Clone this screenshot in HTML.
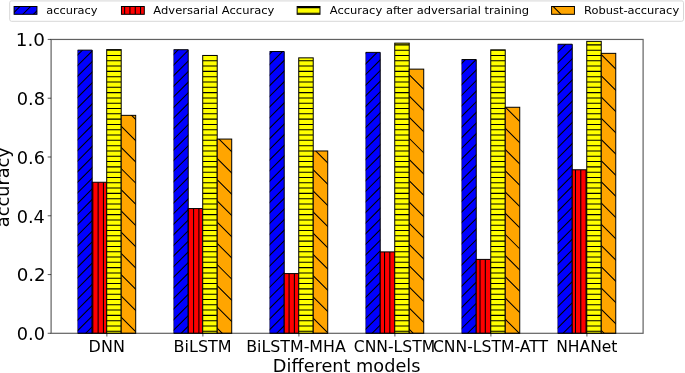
<!DOCTYPE html>
<html><head><meta charset="utf-8"><title>Accuracy of different models</title>
<style>
html,body{margin:0;padding:0;background:#fff;}
body{width:685px;height:373px;overflow:hidden;}
svg{display:block;font-family:"DejaVu Sans","Liberation Sans",sans-serif;}
text{fill:#000;}
</style></head><body>
<svg width="685" height="373" viewBox="0 0 685 373">
<defs>
<clipPath id="c1"><rect x="77.70" y="50.15" width="14.50" height="283.15"/></clipPath>
<clipPath id="c2"><rect x="92.20" y="182.26" width="14.50" height="151.04"/></clipPath>
<clipPath id="c3"><rect x="106.70" y="49.59" width="14.50" height="283.71"/></clipPath>
<clipPath id="c4"><rect x="121.20" y="115.35" width="14.50" height="217.95"/></clipPath>
<clipPath id="c5"><rect x="173.71" y="49.73" width="14.50" height="283.57"/></clipPath>
<clipPath id="c6"><rect x="188.21" y="208.56" width="14.50" height="124.74"/></clipPath>
<clipPath id="c7"><rect x="202.71" y="55.46" width="14.50" height="277.84"/></clipPath>
<clipPath id="c8"><rect x="217.21" y="139.07" width="14.50" height="194.23"/></clipPath>
<clipPath id="c9"><rect x="269.72" y="51.50" width="14.50" height="281.80"/></clipPath>
<clipPath id="c10"><rect x="284.22" y="273.59" width="14.50" height="59.71"/></clipPath>
<clipPath id="c11"><rect x="298.72" y="57.85" width="14.50" height="275.45"/></clipPath>
<clipPath id="c12"><rect x="313.22" y="150.97" width="14.50" height="182.33"/></clipPath>
<clipPath id="c13"><rect x="365.73" y="52.38" width="14.50" height="280.92"/></clipPath>
<clipPath id="c14"><rect x="380.23" y="251.90" width="14.50" height="81.40"/></clipPath>
<clipPath id="c15"><rect x="394.73" y="43.15" width="14.50" height="290.15"/></clipPath>
<clipPath id="c16"><rect x="409.23" y="69.13" width="14.50" height="264.17"/></clipPath>
<clipPath id="c17"><rect x="461.74" y="59.55" width="14.50" height="273.75"/></clipPath>
<clipPath id="c18"><rect x="476.24" y="259.40" width="14.50" height="73.90"/></clipPath>
<clipPath id="c19"><rect x="490.74" y="49.85" width="14.50" height="283.45"/></clipPath>
<clipPath id="c20"><rect x="505.24" y="107.27" width="14.50" height="226.03"/></clipPath>
<clipPath id="c21"><rect x="557.75" y="44.24" width="14.50" height="289.06"/></clipPath>
<clipPath id="c22"><rect x="572.25" y="169.77" width="14.50" height="163.53"/></clipPath>
<clipPath id="c23"><rect x="586.75" y="41.36" width="14.50" height="291.94"/></clipPath>
<clipPath id="c24"><rect x="601.25" y="53.35" width="14.50" height="279.95"/></clipPath>
<clipPath id="c25"><rect x="14.10" y="6.50" width="22.84" height="7.80"/></clipPath>
<clipPath id="c26"><rect x="121.45" y="6.50" width="22.84" height="7.80"/></clipPath>
<clipPath id="c27"><rect x="297.15" y="6.50" width="22.84" height="7.80"/></clipPath>
<clipPath id="c28"><rect x="551.60" y="6.50" width="22.84" height="7.80"/></clipPath>
</defs>
<rect width="685" height="373" fill="#fff"/>
<g stroke="#000" stroke-width="1.0">
<rect x="77.70" y="50.15" width="14.50" height="283.15" fill="#0000ff" stroke="none"/>
<path clip-path="url(#c1)" d="M76.70 55.85L83.40 49.15M76.70 66.45L93.20 49.95M76.70 77.06L93.20 60.56M76.70 87.67L93.20 71.17M76.70 98.28L93.20 81.78M76.70 108.89L93.20 92.39M76.70 119.49L93.20 102.99M76.70 130.10L93.20 113.60M76.70 140.71L93.20 124.21M76.70 151.32L93.20 134.82M76.70 161.93L93.20 145.43M76.70 172.53L93.20 156.03M76.70 183.14L93.20 166.64M76.70 193.75L93.20 177.25M76.70 204.36L93.20 187.86M76.70 214.97L93.20 198.47M76.70 225.57L93.20 209.07M76.70 236.18L93.20 219.68M76.70 246.79L93.20 230.29M76.70 257.40L93.20 240.90M76.70 268.01L93.20 251.51M76.70 278.61L93.20 262.11M76.70 289.22L93.20 272.72M76.70 299.83L93.20 283.33M76.70 310.44L93.20 293.94M76.70 321.05L93.20 304.55M76.70 331.65L93.20 315.15M84.66 334.30L93.20 325.76" fill="none" stroke-width="1.05"/>
<path d="M77.70 50.15H92.20V333.30H77.70" fill="none"/>
<path d="M77.70 333.30V50.15" fill="none" stroke-opacity="0.6" stroke-width="0.8"/>
<rect x="92.20" y="182.26" width="14.50" height="151.04" fill="#ff0000" stroke="none"/>
<path clip-path="url(#c2)" d="M92.82 182.26V333.30M98.12 182.26V333.30M103.43 182.26V333.30" fill="none" stroke-width="1.05"/>
<rect x="92.20" y="182.26" width="14.50" height="151.04" fill="none"/>
<rect x="106.70" y="49.59" width="14.50" height="283.71" fill="#ffff00" stroke="none"/>
<path clip-path="url(#c3)" d="M106.70 50.18H121.20M106.70 55.48H121.20M106.70 60.78H121.20M106.70 66.09H121.20M106.70 71.39H121.20M106.70 76.70H121.20M106.70 82.00H121.20M106.70 87.30H121.20M106.70 92.61H121.20M106.70 97.91H121.20M106.70 103.22H121.20M106.70 108.52H121.20M106.70 113.82H121.20M106.70 119.13H121.20M106.70 124.43H121.20M106.70 129.74H121.20M106.70 135.04H121.20M106.70 140.34H121.20M106.70 145.65H121.20M106.70 150.95H121.20M106.70 156.26H121.20M106.70 161.56H121.20M106.70 166.86H121.20M106.70 172.17H121.20M106.70 177.47H121.20M106.70 182.78H121.20M106.70 188.08H121.20M106.70 193.38H121.20M106.70 198.69H121.20M106.70 203.99H121.20M106.70 209.30H121.20M106.70 214.60H121.20M106.70 219.90H121.20M106.70 225.21H121.20M106.70 230.51H121.20M106.70 235.82H121.20M106.70 241.12H121.20M106.70 246.42H121.20M106.70 251.73H121.20M106.70 257.03H121.20M106.70 262.34H121.20M106.70 267.64H121.20M106.70 272.94H121.20M106.70 278.25H121.20M106.70 283.55H121.20M106.70 288.86H121.20M106.70 294.16H121.20M106.70 299.46H121.20M106.70 304.77H121.20M106.70 310.07H121.20M106.70 315.38H121.20M106.70 320.68H121.20M106.70 325.98H121.20M106.70 331.29H121.20" fill="none" stroke-width="1.05"/>
<rect x="106.70" y="49.59" width="14.50" height="283.71" fill="none"/>
<rect x="121.20" y="115.35" width="14.50" height="217.95" fill="#ffa500" stroke="none"/>
<path clip-path="url(#c4)" d="M120.20 316.10L136.70 332.60M120.20 294.88L136.70 311.38M120.20 273.67L136.70 290.17M120.20 252.45L136.70 268.95M120.20 231.23L136.70 247.73M120.20 210.01L136.70 226.51M120.20 188.80L136.70 205.30M120.20 167.58L136.70 184.08M120.20 146.36L136.70 162.86M120.20 125.15L136.70 141.65M130.62 114.35L136.70 120.43" fill="none" stroke-width="1.05"/>
<rect x="121.20" y="115.35" width="14.50" height="217.95" fill="none"/>
<rect x="173.71" y="49.73" width="14.50" height="283.57" fill="#0000ff" stroke="none"/>
<path clip-path="url(#c5)" d="M172.71 55.31L179.28 48.73M172.71 65.92L189.21 49.42M172.71 76.52L189.21 60.02M172.71 87.13L189.21 70.63M172.71 97.74L189.21 81.24M172.71 108.35L189.21 91.85M172.71 118.96L189.21 102.46M172.71 129.56L189.21 113.06M172.71 140.17L189.21 123.67M172.71 150.78L189.21 134.28M172.71 161.39L189.21 144.89M172.71 172.00L189.21 155.50M172.71 182.60L189.21 166.10M172.71 193.21L189.21 176.71M172.71 203.82L189.21 187.32M172.71 214.43L189.21 197.93M172.71 225.04L189.21 208.54M172.71 235.64L189.21 219.14M172.71 246.25L189.21 229.75M172.71 256.86L189.21 240.36M172.71 267.47L189.21 250.97M172.71 278.08L189.21 261.58M172.71 288.68L189.21 272.18M172.71 299.29L189.21 282.79M172.71 309.90L189.21 293.40M172.71 320.51L189.21 304.01M172.71 331.12L189.21 314.62M180.13 334.30L189.21 325.22" fill="none" stroke-width="1.05"/>
<path d="M173.71 49.73H188.21V333.30H173.71" fill="none"/>
<path d="M173.71 333.30V49.73" fill="none" stroke-opacity="0.6" stroke-width="0.8"/>
<rect x="188.21" y="208.56" width="14.50" height="124.74" fill="#ff0000" stroke="none"/>
<path clip-path="url(#c6)" d="M188.29 208.56V333.30M193.59 208.56V333.30M198.90 208.56V333.30" fill="none" stroke-width="1.05"/>
<rect x="188.21" y="208.56" width="14.50" height="124.74" fill="none"/>
<rect x="202.71" y="55.46" width="14.50" height="277.84" fill="#ffff00" stroke="none"/>
<path clip-path="url(#c7)" d="M202.71 55.48H217.21M202.71 60.78H217.21M202.71 66.09H217.21M202.71 71.39H217.21M202.71 76.70H217.21M202.71 82.00H217.21M202.71 87.30H217.21M202.71 92.61H217.21M202.71 97.91H217.21M202.71 103.22H217.21M202.71 108.52H217.21M202.71 113.82H217.21M202.71 119.13H217.21M202.71 124.43H217.21M202.71 129.74H217.21M202.71 135.04H217.21M202.71 140.34H217.21M202.71 145.65H217.21M202.71 150.95H217.21M202.71 156.26H217.21M202.71 161.56H217.21M202.71 166.86H217.21M202.71 172.17H217.21M202.71 177.47H217.21M202.71 182.78H217.21M202.71 188.08H217.21M202.71 193.38H217.21M202.71 198.69H217.21M202.71 203.99H217.21M202.71 209.30H217.21M202.71 214.60H217.21M202.71 219.90H217.21M202.71 225.21H217.21M202.71 230.51H217.21M202.71 235.82H217.21M202.71 241.12H217.21M202.71 246.42H217.21M202.71 251.73H217.21M202.71 257.03H217.21M202.71 262.34H217.21M202.71 267.64H217.21M202.71 272.94H217.21M202.71 278.25H217.21M202.71 283.55H217.21M202.71 288.86H217.21M202.71 294.16H217.21M202.71 299.46H217.21M202.71 304.77H217.21M202.71 310.07H217.21M202.71 315.38H217.21M202.71 320.68H217.21M202.71 325.98H217.21M202.71 331.29H217.21" fill="none" stroke-width="1.05"/>
<rect x="202.71" y="55.46" width="14.50" height="277.84" fill="none"/>
<rect x="217.21" y="139.07" width="14.50" height="194.23" fill="#ffa500" stroke="none"/>
<path clip-path="url(#c8)" d="M216.21 327.24L223.27 334.30M216.21 306.02L232.71 322.52M216.21 284.81L232.71 301.31M216.21 263.59L232.71 280.09M216.21 242.37L232.71 258.87M216.21 221.16L232.71 237.66M216.21 199.94L232.71 216.44M216.21 178.72L232.71 195.22M216.21 157.51L232.71 174.01M217.99 138.07L232.71 152.79" fill="none" stroke-width="1.05"/>
<rect x="217.21" y="139.07" width="14.50" height="194.23" fill="none"/>
<rect x="269.72" y="51.50" width="14.50" height="281.80" fill="#0000ff" stroke="none"/>
<path clip-path="url(#c9)" d="M268.72 54.77L272.99 50.50M268.72 65.38L283.60 50.50M268.72 75.99L285.22 59.49M268.72 86.59L285.22 70.09M268.72 97.20L285.22 80.70M268.72 107.81L285.22 91.31M268.72 118.42L285.22 101.92M268.72 129.03L285.22 112.53M268.72 139.63L285.22 123.13M268.72 150.24L285.22 133.74M268.72 160.85L285.22 144.35M268.72 171.46L285.22 154.96M268.72 182.07L285.22 165.57M268.72 192.67L285.22 176.17M268.72 203.28L285.22 186.78M268.72 213.89L285.22 197.39M268.72 224.50L285.22 208.00M268.72 235.11L285.22 218.61M268.72 245.71L285.22 229.21M268.72 256.32L285.22 239.82M268.72 266.93L285.22 250.43M268.72 277.54L285.22 261.04M268.72 288.15L285.22 271.65M268.72 298.75L285.22 282.25M268.72 309.36L285.22 292.86M268.72 319.97L285.22 303.47M268.72 330.58L285.22 314.08M275.61 334.30L285.22 324.69" fill="none" stroke-width="1.05"/>
<path d="M269.72 51.50H284.22V333.30H269.72" fill="none"/>
<path d="M269.72 333.30V51.50" fill="none" stroke-opacity="0.6" stroke-width="0.8"/>
<rect x="284.22" y="273.59" width="14.50" height="59.71" fill="#ff0000" stroke="none"/>
<path clip-path="url(#c10)" d="M289.07 273.59V333.30M294.37 273.59V333.30" fill="none" stroke-width="1.05"/>
<rect x="284.22" y="273.59" width="14.50" height="59.71" fill="none"/>
<rect x="298.72" y="57.85" width="14.50" height="275.45" fill="#ffff00" stroke="none"/>
<path clip-path="url(#c11)" d="M298.72 60.78H313.22M298.72 66.09H313.22M298.72 71.39H313.22M298.72 76.70H313.22M298.72 82.00H313.22M298.72 87.30H313.22M298.72 92.61H313.22M298.72 97.91H313.22M298.72 103.22H313.22M298.72 108.52H313.22M298.72 113.82H313.22M298.72 119.13H313.22M298.72 124.43H313.22M298.72 129.74H313.22M298.72 135.04H313.22M298.72 140.34H313.22M298.72 145.65H313.22M298.72 150.95H313.22M298.72 156.26H313.22M298.72 161.56H313.22M298.72 166.86H313.22M298.72 172.17H313.22M298.72 177.47H313.22M298.72 182.78H313.22M298.72 188.08H313.22M298.72 193.38H313.22M298.72 198.69H313.22M298.72 203.99H313.22M298.72 209.30H313.22M298.72 214.60H313.22M298.72 219.90H313.22M298.72 225.21H313.22M298.72 230.51H313.22M298.72 235.82H313.22M298.72 241.12H313.22M298.72 246.42H313.22M298.72 251.73H313.22M298.72 257.03H313.22M298.72 262.34H313.22M298.72 267.64H313.22M298.72 272.94H313.22M298.72 278.25H313.22M298.72 283.55H313.22M298.72 288.86H313.22M298.72 294.16H313.22M298.72 299.46H313.22M298.72 304.77H313.22M298.72 310.07H313.22M298.72 315.38H313.22M298.72 320.68H313.22M298.72 325.98H313.22M298.72 331.29H313.22" fill="none" stroke-width="1.05"/>
<rect x="298.72" y="57.85" width="14.50" height="275.45" fill="none"/>
<rect x="313.22" y="150.97" width="14.50" height="182.33" fill="#ffa500" stroke="none"/>
<path clip-path="url(#c12)" d="M312.22 317.17L328.72 333.67M312.22 295.95L328.72 312.45M312.22 274.73L328.72 291.23M312.22 253.52L328.72 270.02M312.22 232.30L328.72 248.80M312.22 211.08L328.72 227.58M312.22 189.87L328.72 206.37M312.22 168.65L328.72 185.15M314.76 149.97L328.72 163.93" fill="none" stroke-width="1.05"/>
<rect x="313.22" y="150.97" width="14.50" height="182.33" fill="none"/>
<rect x="365.73" y="52.38" width="14.50" height="280.92" fill="#0000ff" stroke="none"/>
<path clip-path="url(#c13)" d="M364.73 54.23L367.58 51.38M364.73 64.84L378.19 51.38M364.73 75.45L381.23 58.95M364.73 86.06L381.23 69.56M364.73 96.66L381.23 80.16M364.73 107.27L381.23 90.77M364.73 117.88L381.23 101.38M364.73 128.49L381.23 111.99M364.73 139.10L381.23 122.60M364.73 149.70L381.23 133.20M364.73 160.31L381.23 143.81M364.73 170.92L381.23 154.42M364.73 181.53L381.23 165.03M364.73 192.14L381.23 175.64M364.73 202.74L381.23 186.24M364.73 213.35L381.23 196.85M364.73 223.96L381.23 207.46M364.73 234.57L381.23 218.07M364.73 245.18L381.23 228.68M364.73 255.78L381.23 239.28M364.73 266.39L381.23 249.89M364.73 277.00L381.23 260.50M364.73 287.61L381.23 271.11M364.73 298.22L381.23 281.72M364.73 308.82L381.23 292.32M364.73 319.43L381.23 302.93M364.73 330.04L381.23 313.54M371.08 334.30L381.23 324.15" fill="none" stroke-width="1.05"/>
<path d="M365.73 52.38H380.23V333.30H365.73" fill="none"/>
<path d="M365.73 333.30V52.38" fill="none" stroke-opacity="0.6" stroke-width="0.8"/>
<rect x="380.23" y="251.90" width="14.50" height="81.40" fill="#ff0000" stroke="none"/>
<path clip-path="url(#c14)" d="M384.54 251.90V333.30M389.84 251.90V333.30" fill="none" stroke-width="1.05"/>
<rect x="380.23" y="251.90" width="14.50" height="81.40" fill="none"/>
<rect x="394.73" y="43.15" width="14.50" height="290.15" fill="#ffff00" stroke="none"/>
<path clip-path="url(#c15)" d="M394.73 44.87H409.23M394.73 50.18H409.23M394.73 55.48H409.23M394.73 60.78H409.23M394.73 66.09H409.23M394.73 71.39H409.23M394.73 76.70H409.23M394.73 82.00H409.23M394.73 87.30H409.23M394.73 92.61H409.23M394.73 97.91H409.23M394.73 103.22H409.23M394.73 108.52H409.23M394.73 113.82H409.23M394.73 119.13H409.23M394.73 124.43H409.23M394.73 129.74H409.23M394.73 135.04H409.23M394.73 140.34H409.23M394.73 145.65H409.23M394.73 150.95H409.23M394.73 156.26H409.23M394.73 161.56H409.23M394.73 166.86H409.23M394.73 172.17H409.23M394.73 177.47H409.23M394.73 182.78H409.23M394.73 188.08H409.23M394.73 193.38H409.23M394.73 198.69H409.23M394.73 203.99H409.23M394.73 209.30H409.23M394.73 214.60H409.23M394.73 219.90H409.23M394.73 225.21H409.23M394.73 230.51H409.23M394.73 235.82H409.23M394.73 241.12H409.23M394.73 246.42H409.23M394.73 251.73H409.23M394.73 257.03H409.23M394.73 262.34H409.23M394.73 267.64H409.23M394.73 272.94H409.23M394.73 278.25H409.23M394.73 283.55H409.23M394.73 288.86H409.23M394.73 294.16H409.23M394.73 299.46H409.23M394.73 304.77H409.23M394.73 310.07H409.23M394.73 315.38H409.23M394.73 320.68H409.23M394.73 325.98H409.23M394.73 331.29H409.23" fill="none" stroke-width="1.05"/>
<rect x="394.73" y="43.15" width="14.50" height="290.15" fill="none"/>
<rect x="409.23" y="69.13" width="14.50" height="264.17" fill="#ffa500" stroke="none"/>
<path clip-path="url(#c16)" d="M408.23 328.31L414.22 334.30M408.23 307.09L424.73 323.59M408.23 285.88L424.73 302.38M408.23 264.66L424.73 281.16M408.23 243.44L424.73 259.94M408.23 222.22L424.73 238.72M408.23 201.01L424.73 217.51M408.23 179.79L424.73 196.29M408.23 158.57L424.73 175.07M408.23 137.36L424.73 153.86M408.23 116.14L424.73 132.64M408.23 94.92L424.73 111.42M408.23 73.71L424.73 90.21" fill="none" stroke-width="1.05"/>
<rect x="409.23" y="69.13" width="14.50" height="264.17" fill="none"/>
<rect x="461.74" y="59.55" width="14.50" height="273.75" fill="#0000ff" stroke="none"/>
<path clip-path="url(#c17)" d="M460.74 64.30L466.49 58.55M460.74 74.91L477.10 58.55M460.74 85.52L477.24 69.02M460.74 96.13L477.24 79.63M460.74 106.73L477.24 90.23M460.74 117.34L477.24 100.84M460.74 127.95L477.24 111.45M460.74 138.56L477.24 122.06M460.74 149.17L477.24 132.67M460.74 159.77L477.24 143.27M460.74 170.38L477.24 153.88M460.74 180.99L477.24 164.49M460.74 191.60L477.24 175.10M460.74 202.21L477.24 185.71M460.74 212.81L477.24 196.31M460.74 223.42L477.24 206.92M460.74 234.03L477.24 217.53M460.74 244.64L477.24 228.14M460.74 255.25L477.24 238.75M460.74 265.85L477.24 249.35M460.74 276.46L477.24 259.96M460.74 287.07L477.24 270.57M460.74 297.68L477.24 281.18M460.74 308.29L477.24 291.79M460.74 318.89L477.24 302.39M460.74 329.50L477.24 313.00M466.55 334.30L477.24 323.61" fill="none" stroke-width="1.05"/>
<path d="M461.74 59.55H476.24V333.30H461.74" fill="none"/>
<path d="M461.74 333.30V59.55" fill="none" stroke-opacity="0.6" stroke-width="0.8"/>
<rect x="476.24" y="259.40" width="14.50" height="73.90" fill="#ff0000" stroke="none"/>
<path clip-path="url(#c18)" d="M480.01 259.40V333.30M485.31 259.40V333.30M490.62 259.40V333.30" fill="none" stroke-width="1.05"/>
<rect x="476.24" y="259.40" width="14.50" height="73.90" fill="none"/>
<rect x="490.74" y="49.85" width="14.50" height="283.45" fill="#ffff00" stroke="none"/>
<path clip-path="url(#c19)" d="M490.74 50.18H505.24M490.74 55.48H505.24M490.74 60.78H505.24M490.74 66.09H505.24M490.74 71.39H505.24M490.74 76.70H505.24M490.74 82.00H505.24M490.74 87.30H505.24M490.74 92.61H505.24M490.74 97.91H505.24M490.74 103.22H505.24M490.74 108.52H505.24M490.74 113.82H505.24M490.74 119.13H505.24M490.74 124.43H505.24M490.74 129.74H505.24M490.74 135.04H505.24M490.74 140.34H505.24M490.74 145.65H505.24M490.74 150.95H505.24M490.74 156.26H505.24M490.74 161.56H505.24M490.74 166.86H505.24M490.74 172.17H505.24M490.74 177.47H505.24M490.74 182.78H505.24M490.74 188.08H505.24M490.74 193.38H505.24M490.74 198.69H505.24M490.74 203.99H505.24M490.74 209.30H505.24M490.74 214.60H505.24M490.74 219.90H505.24M490.74 225.21H505.24M490.74 230.51H505.24M490.74 235.82H505.24M490.74 241.12H505.24M490.74 246.42H505.24M490.74 251.73H505.24M490.74 257.03H505.24M490.74 262.34H505.24M490.74 267.64H505.24M490.74 272.94H505.24M490.74 278.25H505.24M490.74 283.55H505.24M490.74 288.86H505.24M490.74 294.16H505.24M490.74 299.46H505.24M490.74 304.77H505.24M490.74 310.07H505.24M490.74 315.38H505.24M490.74 320.68H505.24M490.74 325.98H505.24M490.74 331.29H505.24" fill="none" stroke-width="1.05"/>
<rect x="490.74" y="49.85" width="14.50" height="283.45" fill="none"/>
<rect x="505.24" y="107.27" width="14.50" height="226.03" fill="#ffa500" stroke="none"/>
<path clip-path="url(#c20)" d="M504.24 318.23L520.31 334.30M504.24 297.02L520.74 313.52M504.24 275.80L520.74 292.30M504.24 254.58L520.74 271.08M504.24 233.37L520.74 249.87M504.24 212.15L520.74 228.65M504.24 190.93L520.74 207.43M504.24 169.72L520.74 186.22M504.24 148.50L520.74 165.00M504.24 127.28L520.74 143.78M504.45 106.27L520.74 122.56" fill="none" stroke-width="1.05"/>
<rect x="505.24" y="107.27" width="14.50" height="226.03" fill="none"/>
<rect x="557.75" y="44.24" width="14.50" height="289.06" fill="#0000ff" stroke="none"/>
<path clip-path="url(#c21)" d="M556.75 53.16L566.67 43.24M556.75 63.76L573.25 47.26M556.75 74.37L573.25 57.87M556.75 84.98L573.25 68.48M556.75 95.59L573.25 79.09M556.75 106.20L573.25 89.70M556.75 116.80L573.25 100.30M556.75 127.41L573.25 110.91M556.75 138.02L573.25 121.52M556.75 148.63L573.25 132.13M556.75 159.24L573.25 142.74M556.75 169.84L573.25 153.34M556.75 180.45L573.25 163.95M556.75 191.06L573.25 174.56M556.75 201.67L573.25 185.17M556.75 212.28L573.25 195.78M556.75 222.88L573.25 206.38M556.75 233.49L573.25 216.99M556.75 244.10L573.25 227.60M556.75 254.71L573.25 238.21M556.75 265.32L573.25 248.82M556.75 275.92L573.25 259.42M556.75 286.53L573.25 270.03M556.75 297.14L573.25 280.64M556.75 307.75L573.25 291.25M556.75 318.36L573.25 301.86M556.75 328.96L573.25 312.46M562.02 334.30L573.25 323.07" fill="none" stroke-width="1.05"/>
<path d="M557.75 44.24H572.25V333.30H557.75" fill="none"/>
<path d="M557.75 333.30V44.24" fill="none" stroke-opacity="0.6" stroke-width="0.8"/>
<rect x="572.25" y="169.77" width="14.50" height="163.53" fill="#ff0000" stroke="none"/>
<path clip-path="url(#c22)" d="M575.48 169.77V333.30M580.79 169.77V333.30M586.09 169.77V333.30" fill="none" stroke-width="1.05"/>
<rect x="572.25" y="169.77" width="14.50" height="163.53" fill="none"/>
<rect x="586.75" y="41.36" width="14.50" height="291.94" fill="#ffff00" stroke="none"/>
<path clip-path="url(#c23)" d="M586.75 44.87H601.25M586.75 50.18H601.25M586.75 55.48H601.25M586.75 60.78H601.25M586.75 66.09H601.25M586.75 71.39H601.25M586.75 76.70H601.25M586.75 82.00H601.25M586.75 87.30H601.25M586.75 92.61H601.25M586.75 97.91H601.25M586.75 103.22H601.25M586.75 108.52H601.25M586.75 113.82H601.25M586.75 119.13H601.25M586.75 124.43H601.25M586.75 129.74H601.25M586.75 135.04H601.25M586.75 140.34H601.25M586.75 145.65H601.25M586.75 150.95H601.25M586.75 156.26H601.25M586.75 161.56H601.25M586.75 166.86H601.25M586.75 172.17H601.25M586.75 177.47H601.25M586.75 182.78H601.25M586.75 188.08H601.25M586.75 193.38H601.25M586.75 198.69H601.25M586.75 203.99H601.25M586.75 209.30H601.25M586.75 214.60H601.25M586.75 219.90H601.25M586.75 225.21H601.25M586.75 230.51H601.25M586.75 235.82H601.25M586.75 241.12H601.25M586.75 246.42H601.25M586.75 251.73H601.25M586.75 257.03H601.25M586.75 262.34H601.25M586.75 267.64H601.25M586.75 272.94H601.25M586.75 278.25H601.25M586.75 283.55H601.25M586.75 288.86H601.25M586.75 294.16H601.25M586.75 299.46H601.25M586.75 304.77H601.25M586.75 310.07H601.25M586.75 315.38H601.25M586.75 320.68H601.25M586.75 325.98H601.25M586.75 331.29H601.25" fill="none" stroke-width="1.05"/>
<rect x="586.75" y="41.36" width="14.50" height="291.94" fill="none"/>
<rect x="601.25" y="53.35" width="14.50" height="279.95" fill="#ffa500" stroke="none"/>
<path clip-path="url(#c24)" d="M600.25 329.38L605.17 334.30M600.25 308.16L616.75 324.66M600.25 286.94L616.75 303.44M600.25 265.73L616.75 282.23M600.25 244.51L616.75 261.01M600.25 223.29L616.75 239.79M600.25 202.07L616.75 218.57M600.25 180.86L616.75 197.36M600.25 159.64L616.75 176.14M600.25 138.42L616.75 154.92M600.25 117.21L616.75 133.71M600.25 95.99L616.75 112.49M600.25 74.77L616.75 91.27M600.25 53.56L616.75 70.06" fill="none" stroke-width="1.05"/>
<rect x="601.25" y="53.35" width="14.50" height="279.95" fill="none"/>
</g>
<rect x="51.1" y="39.45" width="592.00" height="293.85" fill="none" stroke="#000" stroke-opacity="0.62" stroke-width="1.2"/>
<g stroke="#000" stroke-opacity="0.6" stroke-width="1.1">
<line x1="47.70" y1="333.30" x2="51.1" y2="333.30"/>
<line x1="47.70" y1="274.53" x2="51.1" y2="274.53"/>
<line x1="47.70" y1="215.76" x2="51.1" y2="215.76"/>
<line x1="47.70" y1="156.99" x2="51.1" y2="156.99"/>
<line x1="47.70" y1="98.22" x2="51.1" y2="98.22"/>
<line x1="47.70" y1="39.45" x2="51.1" y2="39.45"/>
<line x1="106.85" y1="333.3" x2="106.85" y2="336.60"/>
<line x1="202.86" y1="333.3" x2="202.86" y2="336.60"/>
<line x1="298.87" y1="333.3" x2="298.87" y2="336.60"/>
<line x1="394.88" y1="333.3" x2="394.88" y2="336.60"/>
<line x1="490.89" y1="333.3" x2="490.89" y2="336.60"/>
<line x1="586.90" y1="333.3" x2="586.90" y2="336.60"/>
</g>
<rect x="9.7" y="0.75" width="673.8" height="20.55" rx="1.9" ry="1.9" fill="#fff" fill-opacity="0.8" stroke="#d2d2d2" stroke-width="0.9"/>
<path d="M11.4 0.75H681.8" stroke="#e7e7e7" stroke-width="1.5" fill="none"/>
<g stroke="#000" stroke-width="1.0">
<rect x="14.10" y="6.50" width="22.84" height="7.80" fill="#0000ff" stroke="none"/>
<path clip-path="url(#c25)" d="M13.10 13.37L20.97 5.50M21.77 15.30L31.57 5.50M32.38 15.30L37.94 9.74" fill="none" stroke-width="1.05"/>
<rect x="14.10" y="6.50" width="22.84" height="7.80" fill="none"/>
<rect x="121.45" y="6.50" width="22.84" height="7.80" fill="#ff0000" stroke="none"/>
<path clip-path="url(#c26)" d="M124.64 6.50V14.30M129.95 6.50V14.30M135.25 6.50V14.30M140.55 6.50V14.30" fill="none" stroke-width="1.05"/>
<rect x="121.45" y="6.50" width="22.84" height="7.80" fill="none"/>
<rect x="297.15" y="6.50" width="22.84" height="7.80" fill="#ffff00" stroke="none"/>
<path clip-path="url(#c27)" d="M297.15 7.6H319.98999999999995M297.15 13.25H319.98999999999995" fill="none" stroke-width="1.05"/>
<rect x="297.15" y="6.50" width="22.84" height="7.80" fill="none"/>
<rect x="551.60" y="6.50" width="22.84" height="7.80" fill="#ffa500" stroke="none"/>
<path clip-path="url(#c28)" d="M552.19 5.50L561.99 15.30M573.41 5.50L575.44 7.53" fill="none" stroke-width="1.05"/>
<rect x="551.60" y="6.50" width="22.84" height="7.80" fill="none"/>
</g>
<text x="88.64" y="351.90" font-size="15.4px" textLength="36.24" lengthAdjust="spacingAndGlyphs">DNN</text>
<text x="173.64" y="351.90" font-size="15.4px" textLength="58.03" lengthAdjust="spacingAndGlyphs">BiLSTM</text>
<text x="246.26" y="351.90" font-size="15.4px" textLength="99.47" lengthAdjust="spacingAndGlyphs">BiLSTM-MHA</text>
<text x="353.81" y="351.90" font-size="15.4px" textLength="81.33" lengthAdjust="spacingAndGlyphs">CNN-LSTM</text>
<text x="432.91" y="351.90" font-size="15.4px" textLength="115.09" lengthAdjust="spacingAndGlyphs">CNN-LSTM-ATT</text>
<text x="556.19" y="351.90" font-size="15.4px" textLength="61.24" lengthAdjust="spacingAndGlyphs">NHANet</text>
<text x="16.71" y="340.15" font-size="16.9px" textLength="28.32" lengthAdjust="spacingAndGlyphs">0.0</text>
<text x="16.68" y="281.38" font-size="16.9px" textLength="29.06" lengthAdjust="spacingAndGlyphs">0.2</text>
<text x="16.72" y="222.61" font-size="16.9px" textLength="28.18" lengthAdjust="spacingAndGlyphs">0.4</text>
<text x="16.71" y="163.84" font-size="16.9px" textLength="28.32" lengthAdjust="spacingAndGlyphs">0.6</text>
<text x="16.71" y="105.07" font-size="16.9px" textLength="28.32" lengthAdjust="spacingAndGlyphs">0.8</text>
<text x="15.86" y="46.30" font-size="16.9px" textLength="29.21" lengthAdjust="spacingAndGlyphs">1.0</text>
<text x="272.89" y="372.00" font-size="16.8px" textLength="147.60" lengthAdjust="spacingAndGlyphs">Different models</text>
<text x="46.25" y="14.00" font-size="11.0px" textLength="51.34" lengthAdjust="spacingAndGlyphs">accuracy</text>
<text x="153.37" y="14.00" font-size="11.0px" textLength="120.98" lengthAdjust="spacingAndGlyphs">Adversarial Accuracy</text>
<text x="329.77" y="14.00" font-size="11.0px" textLength="199.24" lengthAdjust="spacingAndGlyphs">Accuracy after adversarial training</text>
<text x="583.98" y="14.00" font-size="11.0px" textLength="95.19" lengthAdjust="spacingAndGlyphs">Robust-accuracy</text>
<text transform="translate(8.9 226.1) rotate(-90)" x="-1.05" y="0" font-size="16.8px" textLength="79.96" lengthAdjust="spacingAndGlyphs">accuracy</text>
</svg></body></html>
